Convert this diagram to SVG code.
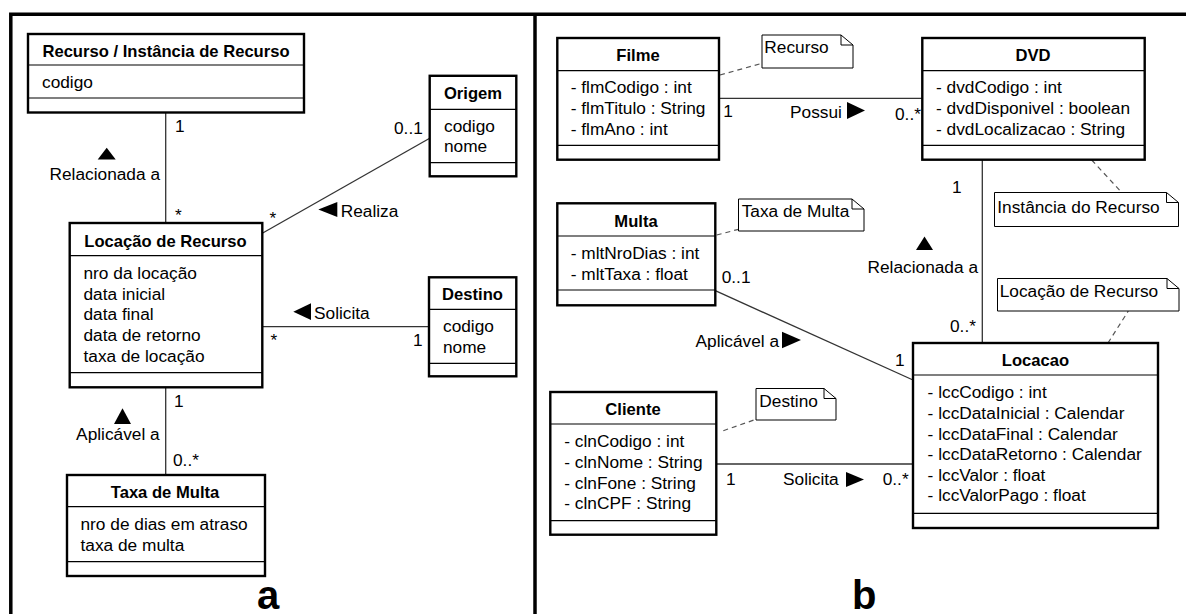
<svg xmlns="http://www.w3.org/2000/svg" width="1186" height="614" viewBox="0 0 1186 614">
  <style>
    .frame{fill:none;stroke:#000;stroke-width:3.5}
    .box{fill:#fff;stroke:#000;stroke-width:2.4}
    .sep{stroke:#000;stroke-width:1.2}
    .t{font-family:"Liberation Sans",Arial,sans-serif;font-size:17.3px;fill:#000}
    .h{font-weight:bold;font-size:16.6px;text-anchor:middle}
    .e{text-anchor:end}
    .edge{fill:none;stroke:#333;stroke-width:1.3}
    .dash{fill:none;stroke:#555;stroke-width:1.2;stroke-dasharray:5 4}
    .note{fill:#fff;stroke:#000;stroke-width:1}
    .fold{fill:none;stroke:#000;stroke-width:1}
    .arr{fill:#000}
    .big{font-family:"Liberation Sans",Arial,sans-serif;font-size:40px;font-weight:bold;fill:#000}
  </style>

  <rect width="1186" height="614" fill="#fff"/>

  <!-- panel frame -->
  <g id="frame">
    <path class="frame" d="M10.8,614 V14.3 H1186"/>
    <path class="frame" d="M535,14.3 V614"/>
  </g>

  <!-- associations and note links -->
  <g id="connectors">
    <!-- panel a -->
    <line class="edge" x1="165.7" y1="112.5" x2="165.7" y2="223"/>
    <line class="edge" x1="262.3" y1="233.3" x2="429.7" y2="138.3"/>
    <line class="edge" x1="262.3" y1="326.7" x2="429" y2="326.7"/>
    <line class="edge" x1="165.7" y1="387.3" x2="165.7" y2="475"/>

    <polygon class="arr" points="106.7,147.7 97.7,159.5 115.7,159.5"/>
    <polygon class="arr" points="318.3,209.5 337.3,202 337.3,217"/>
    <polygon class="arr" points="293.3,311.7 311,303.3 311,320"/>
    <polygon class="arr" points="122.5,408.3 114,424 131,424"/>

    <text class="t" x="175" y="131.5">1</text>
    <text class="t e" x="160" y="180">Relacionada a</text>
    <text class="t" x="175" y="220.5">*</text>
    <text class="t" x="269.5" y="224">*</text>
    <text class="t" x="394" y="134">0..1</text>
    <text class="t" x="340.7" y="216.7">Realiza</text>
    <text class="t" x="314" y="319.3">Solicita</text>
    <text class="t" x="270.5" y="345.5">*</text>
    <text class="t e" x="422.5" y="346">1</text>
    <text class="t" x="174" y="406.7">1</text>
    <text class="t e" x="159.7" y="440">Aplicável a</text>
    <text class="t" x="173" y="466">0..*</text>

    <!-- panel b -->
    <line class="edge" x1="719" y1="98.3" x2="922.3" y2="98.3"/>
    <line class="edge" x1="982.3" y1="159.7" x2="982.3" y2="343"/>
    <line class="edge" x1="715.3" y1="290.7" x2="913" y2="380"/>
    <line class="edge" x1="716.3" y1="464" x2="913" y2="464"/>

    <polygon class="arr" points="865,110.5 847,102 847,119"/>
    <polygon class="arr" points="924.5,236.5 916,250 933,250"/>
    <polygon class="arr" points="801,340 782,331.7 782,348.3"/>
    <polygon class="arr" points="864,479.5 846,472 846,487"/>

    <text class="t" x="723.3" y="117">1</text>
    <text class="t" x="790" y="117.5">Possui</text>
    <text class="t" x="895" y="120">0..*</text>
    <text class="t" x="952" y="193.3">1</text>
    <text class="t e" x="978" y="272.7">Relacionada a</text>
    <text class="t" x="950" y="331.7">0..*</text>
    <text class="t" x="721.7" y="283.3">0..1</text>
    <text class="t" x="695.5" y="346.7">Aplicável a</text>
    <text class="t" x="895" y="365.5">1</text>
    <text class="t" x="726" y="485">1</text>
    <text class="t" x="783" y="485">Solicita</text>
    <text class="t" x="882.7" y="485">0..*</text>

    <line class="dash" x1="720" y1="75" x2="762" y2="63.3"/>
    <line class="dash" x1="716.7" y1="235" x2="738.5" y2="229.3"/>
    <line class="dash" x1="1091.7" y1="160" x2="1121.7" y2="192.5"/>
    <line class="dash" x1="1108" y1="343" x2="1128.3" y2="311"/>
    <line class="dash" x1="723.3" y1="430.7" x2="756" y2="419.3"/>
  </g>

  <!-- panel a classes -->
  <g id="recurso">
    <rect class="box" x="28" y="34" width="276" height="78.5"/>
    <line class="sep" x1="28" y1="65" x2="304" y2="65"/>
    <line class="sep" x1="28" y1="98" x2="304" y2="98"/>
    <text class="t h" x="166" y="57">Recurso / Instância de Recurso</text>
    <text class="t" x="42" y="88">codigo</text>
  </g>

  <g id="origem">
    <rect class="box" x="429.7" y="75.8" width="86.6" height="100.5"/>
    <line class="sep" x1="429.7" y1="109.3" x2="516.3" y2="109.3"/>
    <line class="sep" x1="429.7" y1="162.7" x2="516.3" y2="162.7"/>
    <text class="t h" x="473" y="99.3">Origem</text>
    <text class="t" x="444" y="131.7">codigo</text>
    <text class="t" x="444" y="152.2">nome</text>
  </g>

  <g id="locacao-recurso">
    <rect class="box" x="69.7" y="223" width="192.6" height="164.3"/>
    <line class="sep" x1="69.7" y1="255.7" x2="262.3" y2="255.7"/>
    <line class="sep" x1="69.7" y1="372.7" x2="262.3" y2="372.7"/>
    <text class="t h" x="165.5" y="246.7">Locação de Recurso</text>
    <text class="t" x="83.5" y="279">nro da locação</text>
    <text class="t" x="83.5" y="299.7">data inicial</text>
    <text class="t" x="83.5" y="320.3">data final</text>
    <text class="t" x="83.5" y="341">data de retorno</text>
    <text class="t" x="83.5" y="361.7">taxa de locação</text>
  </g>

  <g id="destino">
    <rect class="box" x="429" y="277.3" width="87.3" height="99"/>
    <line class="sep" x1="429" y1="309.3" x2="516.3" y2="309.3"/>
    <line class="sep" x1="429" y1="363.3" x2="516.3" y2="363.3"/>
    <text class="t h" x="472.5" y="300">Destino</text>
    <text class="t" x="443" y="331.7">codigo</text>
    <text class="t" x="443" y="352.7">nome</text>
  </g>

  <g id="taxa-de-multa">
    <rect class="box" x="67" y="475" width="198" height="101"/>
    <line class="sep" x1="67" y1="506.7" x2="265" y2="506.7"/>
    <line class="sep" x1="67" y1="561.7" x2="265" y2="561.7"/>
    <text class="t h" x="165" y="498.3">Taxa de Multa</text>
    <text class="t" x="80.5" y="530">nro de dias em atraso</text>
    <text class="t" x="80.5" y="550.7">taxa de multa</text>
  </g>

  <text class="big" x="257" y="609">a</text>

  <!-- panel b classes -->
  <g id="filme">
    <rect class="box" x="557.3" y="38" width="161.7" height="121.7"/>
    <line class="sep" x1="557.3" y1="70.7" x2="719" y2="70.7"/>
    <line class="sep" x1="557.3" y1="145.3" x2="719" y2="145.3"/>
    <text class="t h" x="638" y="61">Filme</text>
    <text class="t" x="570.7" y="93.3">- flmCodigo : int</text>
    <text class="t" x="570.7" y="114">- flmTitulo : String</text>
    <text class="t" x="570.7" y="134.7">- flmAno : int</text>
  </g>

  <g id="dvd">
    <rect class="box" x="922.3" y="38" width="222.4" height="121.7"/>
    <line class="sep" x1="922.3" y1="70.7" x2="1144.7" y2="70.7"/>
    <line class="sep" x1="922.3" y1="145.3" x2="1144.7" y2="145.3"/>
    <text class="t h" x="1033" y="61">DVD</text>
    <text class="t" x="936" y="93.3">- dvdCodigo : int</text>
    <text class="t" x="936" y="114">- dvdDisponivel : boolean</text>
    <text class="t" x="936" y="134.7">- dvdLocalizacao : String</text>
  </g>

  <g id="multa">
    <rect class="box" x="557.3" y="203.3" width="158" height="102"/>
    <line class="sep" x1="557.3" y1="236" x2="715.3" y2="236"/>
    <line class="sep" x1="557.3" y1="290" x2="715.3" y2="290"/>
    <text class="t h" x="636" y="227.3">Multa</text>
    <text class="t" x="570.7" y="259.3">- mltNroDias : int</text>
    <text class="t" x="570.7" y="280">- mltTaxa : float</text>
  </g>

  <g id="locacao">
    <rect class="box" x="913" y="343" width="245" height="185"/>
    <line class="sep" x1="913" y1="375" x2="1158" y2="375"/>
    <line class="sep" x1="913" y1="513.3" x2="1158" y2="513.3"/>
    <text class="t h" x="1035.5" y="366">Locacao</text>
    <text class="t" x="927.6" y="398.3">- lccCodigo : int</text>
    <text class="t" x="927.6" y="419">- lccDataInicial : Calendar</text>
    <text class="t" x="927.6" y="439.6">- lccDataFinal : Calendar</text>
    <text class="t" x="927.6" y="460.2">- lccDataRetorno : Calendar</text>
    <text class="t" x="927.6" y="480.8">- lccValor : float</text>
    <text class="t" x="927.6" y="501.4">- lccValorPago : float</text>
  </g>

  <g id="cliente">
    <rect class="box" x="550.3" y="392" width="166" height="142.7"/>
    <line class="sep" x1="550.3" y1="424" x2="716.3" y2="424"/>
    <line class="sep" x1="550.3" y1="520.7" x2="716.3" y2="520.7"/>
    <text class="t h" x="633" y="415">Cliente</text>
    <text class="t" x="564.3" y="447.3">- clnCodigo : int</text>
    <text class="t" x="564.3" y="468">- clnNome : String</text>
    <text class="t" x="564.3" y="488.7">- clnFone : String</text>
    <text class="t" x="564.3" y="509.3">- clnCPF : String</text>
  </g>

  <!-- notes -->
  <g id="note-recurso">
    <path class="note" d="M762,35 H841 L853,45 V68 H762 Z"/>
    <path class="fold" d="M841,35 V45 H853"/>
    <text class="t" x="764.3" y="53.3">Recurso</text>
  </g>

  <g id="note-taxa-de-multa">
    <path class="note" d="M738.5,199 H852 L864,209 V231 H738.5 Z"/>
    <path class="fold" d="M852,199 V209 H864"/>
    <text class="t" x="741.7" y="216.7">Taxa de Multa</text>
  </g>

  <g id="note-instancia">
    <path class="note" d="M994.5,192.5 H1166.5 L1178.5,202.5 V226.5 H994.5 Z"/>
    <path class="fold" d="M1166.5,192.5 V202.5 H1178.5"/>
    <text class="t" x="997.3" y="213.3">Instância do Recurso</text>
  </g>

  <g id="note-locacao">
    <path class="note" d="M997.5,278.5 H1167 L1179,288.5 V311 H997.5 Z"/>
    <path class="fold" d="M1167,278.5 V288.5 H1179"/>
    <text class="t" x="999.7" y="297.3">Locação de Recurso</text>
  </g>

  <g id="note-destino">
    <path class="note" d="M756,388.5 H824 L836,398.5 V420 H756 Z"/>
    <path class="fold" d="M824,388.5 V398.5 H836"/>
    <text class="t" x="759.3" y="406.7">Destino</text>
  </g>

  <text class="big" x="852" y="609">b</text>
</svg>
